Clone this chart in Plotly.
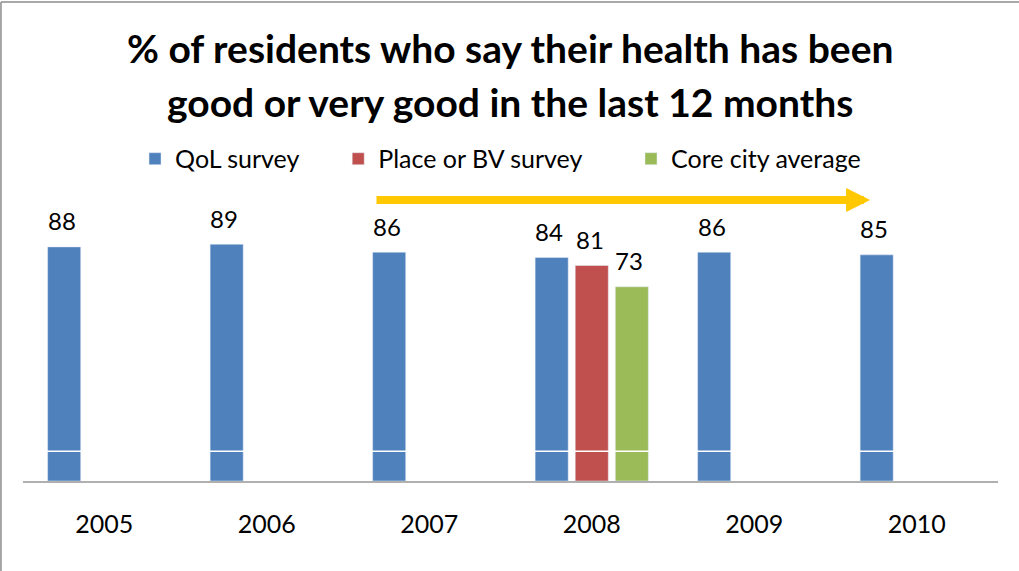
import plotly.graph_objects as go

years = ["2005", "2006", "2007", "2008", "2009", "2010"]
qol_survey = [88, 89, 86, 84, 86, 85]
place_bv_survey = [None, None, None, 81, None, None]
core_city_avg = [None, None, None, 73, None, None]

series = [
    ("QoL survey", qol_survey, "#4F81BD", -40.5),
    ("Place or BV survey", place_bv_survey, "#C0504D", 0),
    ("Core city average", core_city_avg, "#9BBB59", 39),
]

FONT = "Lato"
fig = go.Figure()

legend_x = [0.1149, 0.3233, 0.6236]
for i, (name, vals, color, _) in enumerate(series):
    fig.add_trace(go.Bar(
        x=years, y=vals, name=name, marker_color=color,
        legend="legend" if i == 0 else f"legend{i + 1}",
    ))

# value labels above the bars (x given as category index)
for name, vals, color, shift in series:
    for idx, v in enumerate(vals):
        if v is None:
            continue
        fig.add_annotation(
            x=idx, y=v, text=str(v), showarrow=False, xshift=shift - 2,
            yanchor="middle", yshift=26,
            font=dict(family=FONT, size=24, color="#000000"),
        )

# title, two lines
title_lines = ["% of residents who say their health has been",
               "good or very good in the last 12 months"]
for line, ty in zip(title_lines, [1.535, 1.345]):
    fig.add_annotation(
        xref="paper", yref="paper", x=0.499, y=ty, showarrow=False,
        xanchor="center", yanchor="middle", text=f"<b>{line}</b>",
        font=dict(family=FONT, size=39, color="#000000"),
    )

# trend arrow
fig.add_annotation(
    x=4.713, y=105.6, ax=1.666, ay=105.6,
    xref="x", yref="y", axref="x", ayref="y",
    showarrow=True, arrowhead=2, arrowsize=0.6, arrowwidth=8,
    arrowcolor="#FFC800", text="",
)

# white break line across bars
fig.add_shape(type="line", xref="paper", yref="y", x0=0, x1=1, y0=11.2, y1=11.2,
              line=dict(color="#FFFFFF", width=1.5), layer="above")

# outer border (left and top edges are the visible ones)
fig.add_shape(type="line", xref="paper", yref="paper",
              x0=-0.0226, x1=-0.0226, y0=-0.4, y1=1.6986,
              line=dict(color="#8C8C8C", width=1.5), layer="above")
fig.add_shape(type="line", xref="paper", yref="paper",
              x0=-0.0226, x1=1.05, y0=1.6986, y1=1.6986,
              line=dict(color="#8C8C8C", width=1.5), layer="above")

legend_common = dict(
    orientation="h", xanchor="left", yanchor="middle", y=1.142,
    font=dict(family=FONT, size=25, color="#000000"),
    bgcolor="rgba(0,0,0,0)", itemclick=False,
)
fig.update_layout(
    width=1019, height=571,
    margin=dict(l=23, r=21, t=199, b=90),
    plot_bgcolor="#FFFFFF", paper_bgcolor="#FFFFFF",
    barmode="group", bargap=0.26, bargroupgap=0.175,
    showlegend=True,
    legend=dict(x=legend_x[0], **legend_common),
    legend2=dict(x=legend_x[1], **legend_common),
    legend3=dict(x=legend_x[2], **legend_common),
    xaxis=dict(
        type="category", range=[-0.5, 5.5],
        showline=True, linecolor="#B0B0B0", linewidth=2,
        showgrid=False, ticks="", ticklabelstandoff=20,
        tickfont=dict(family=FONT, size=25, color="#000000"),
    ),
    yaxis=dict(range=[0, 106], visible=False, showgrid=False, zeroline=False),
)

fig.write_html("out.html", config={"displayModeBar": False},
               post_script="document.body.style.margin='0';")
